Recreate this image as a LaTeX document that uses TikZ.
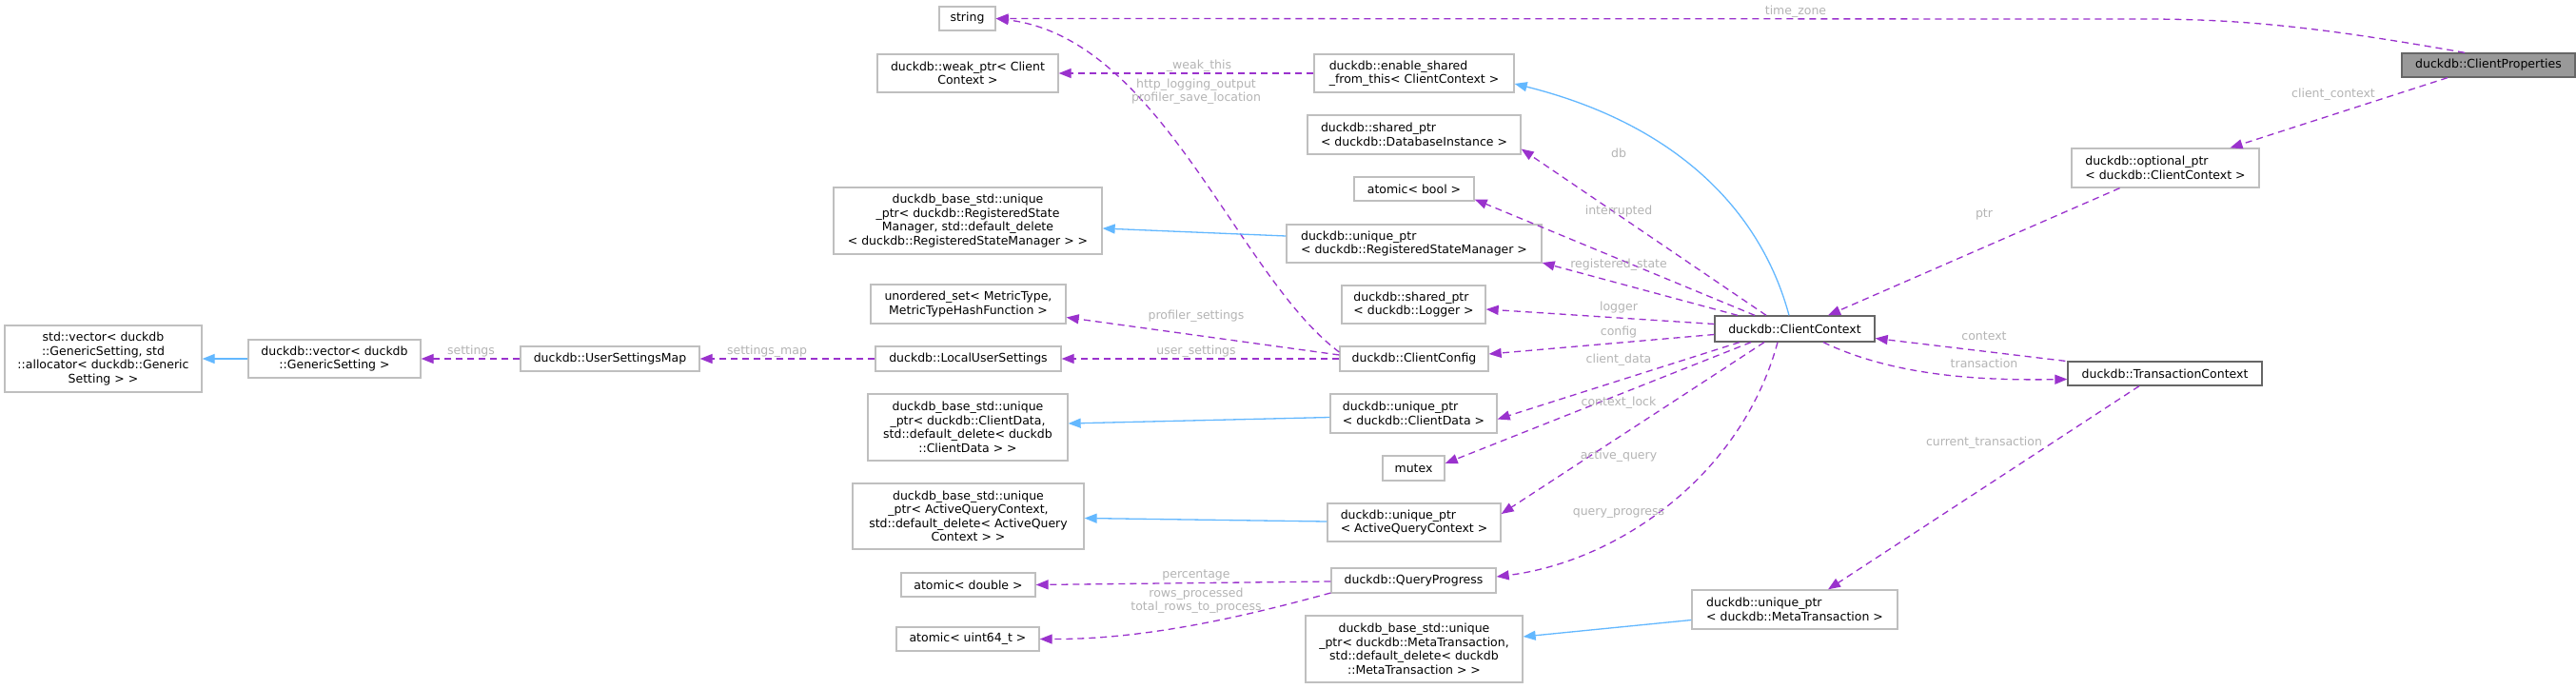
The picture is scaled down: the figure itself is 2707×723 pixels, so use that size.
\documentclass[tikz,border=0pt]{standalone}
\usepackage{fontspec}
\setmainfont{DejaVu Sans}
\usetikzlibrary{arrows.meta}
\definecolor{mem}{HTML}{9A32CD}
\definecolor{inh}{HTML}{63B8FF}
\definecolor{lblc}{HTML}{B4B4B4}
\definecolor{bord}{HTML}{BFBFBF}
\definecolor{dbord}{HTML}{666666}
\definecolor{cfill}{HTML}{999999}
\begin{document}
\begin{tikzpicture}[x=1pt,y=-1pt,
  box/.style={draw=bord,line width=1.3pt,fill=white,inner sep=0pt,align=center,font=\fontsize{12.5}{14.5}\selectfont},
  lbox/.style={box,align=left},
  mem/.style={draw=mem,line width=1.3pt,dash pattern=on 7pt off 5pt,-{Triangle[length=13pt,width=10pt]}},
  inh/.style={draw=inh,line width=1.3pt,-{Triangle[length=13pt,width=10pt]}},
  lbl/.style={text=lblc,font=\fontsize{12.5}{14.5}\selectfont,inner sep=0pt,align=center}]
\useasboundingbox (0,0) rectangle (2707,723);
\fill[white] (0,0) rectangle (2707,723);
% nodes
\node[box,minimum width=59,minimum height=25] (string) at (1016.5,19.5) {string};
\node[box,minimum width=190,minimum height=40] (weak) at (1017,77) {duckdb::weak\_ptr< Client\\Context >};
\node[lbox,minimum width=210,minimum height=40] (enable) at (1486,77) {duckdb::enable\_shared\\\_from\_this< ClientContext >};
\node[lbox,minimum width=224,minimum height=41] (spdb) at (1486,141.5) {duckdb::shared\_ptr\\< duckdb::DatabaseInstance >};
\node[box,minimum width=126,minimum height=25] (abool) at (1486,198.5) {atomic< bool >};
\node[box,minimum width=282,minimum height=70] (brsm) at (1017,232) {duckdb\_base\_std::unique\\\_ptr< duckdb::RegisteredState\\Manager, std::default\_delete\\< duckdb::RegisteredStateManager > >};
\node[lbox,minimum width=268,minimum height=40] (ursm) at (1486,256) {duckdb::unique\_ptr\\< duckdb::RegisteredStateManager >};
\node[box,minimum width=205,minimum height=41] (uset) at (1017.5,319.5) {unordered\_set< MetricType,\\MetricTypeHashFunction >};
\node[lbox,minimum width=151,minimum height=40] (splog) at (1485.5,320) {duckdb::shared\_ptr\\< duckdb::Logger >};
\node[box,draw=dbord,minimum width=168,minimum height=27] (cc) at (1886,345.5) {duckdb::ClientContext};
\node[box,minimum width=207,minimum height=70] (stdvec) at (108.5,377) {std::vector< duckdb\\::GenericSetting, std\\::allocator< duckdb::Generic\\Setting > >};
\node[box,minimum width=181,minimum height=40] (dvec) at (351.5,377) {duckdb::vector< duckdb\\::GenericSetting >};
\node[box,minimum width=188,minimum height=26] (usm) at (641,377) {duckdb::UserSettingsMap};
\node[box,minimum width=195,minimum height=26] (lus) at (1017.5,377) {duckdb::LocalUserSettings};
\node[box,minimum width=156,minimum height=26] (ccfg) at (1486,377) {duckdb::ClientConfig};
\node[box,minimum width=210,minimum height=70] (bcd) at (1017,449) {duckdb\_base\_std::unique\\\_ptr< duckdb::ClientData,\\std::default\_delete< duckdb\\::ClientData > >};
\node[lbox,minimum width=175,minimum height=41] (ucd) at (1485.5,434.5) {duckdb::unique\_ptr\\< duckdb::ClientData >};
\node[box,minimum width=65,minimum height=26] (mutex) at (1485.5,492) {mutex};
\node[box,minimum width=243,minimum height=69] (baq) at (1017.5,542.5) {duckdb\_base\_std::unique\\\_ptr< ActiveQueryContext,\\std::default\_delete< ActiveQuery\\Context > >};
\node[lbox,minimum width=182,minimum height=40] (uaq) at (1486,549) {duckdb::unique\_ptr\\< ActiveQueryContext >};
\node[box,minimum width=141,minimum height=25] (adbl) at (1017.5,614.5) {atomic< double >};
\node[box,minimum width=173,minimum height=26] (qp) at (1485.5,610) {duckdb::QueryProgress};
\node[box,minimum width=150,minimum height=25] (au64) at (1017,671.5) {atomic< uint64\_t >};
\node[box,minimum width=228,minimum height=70] (bmt) at (1486,682) {duckdb\_base\_std::unique\\\_ptr< duckdb::MetaTransaction,\\std::default\_delete< duckdb\\::MetaTransaction > >};
\node[lbox,minimum width=216,minimum height=41] (umt) at (1886,640.5) {duckdb::unique\_ptr\\< duckdb::MetaTransaction >};
\node[box,draw=dbord,fill=cfill,minimum width=182,minimum height=25] (cprop) at (2615,68.5) {duckdb::ClientProperties};
\node[lbox,minimum width=197,minimum height=41] (optr) at (2275.5,176.5) {duckdb::optional\_ptr\\< duckdb::ClientContext >};
\node[box,draw=dbord,minimum width=204,minimum height=25] (tctx) at (2275,392.5) {duckdb::TransactionContext};
% edges
\draw[mem] ([xshift=-25pt]cprop.north) .. controls (2420,25) and (2340,20) .. (2250,20) -- (string.east);
\node[lbl] (l1) at (1887,12) {time\_zone};
\draw[mem] ([xshift=-43pt]cprop.south) -- ([xshift=68pt]optr.north);
\node[lbl] (l2) at (2452,99) {client\_context};
\draw[mem] ([xshift=-48pt]optr.south) -- ([xshift=35pt]cc.north);
\node[lbl] (l3) at (2085,225) {ptr};
\draw[mem] ([xshift=-2pt]tctx.north west) -- ([yshift=-10pt]cc.east);
\node[lbl] (l4) at (2085,353) {context};
\draw[mem] ([xshift=30pt]cc.south) .. controls (1990,395) and (2080,400) .. ([yshift=-6pt]tctx.west);
\node[lbl] (l5) at (2085,382) {transaction};
\draw[mem] ([xshift=-27pt]tctx.south) -- ([xshift=35pt]umt.north);
\node[lbl] (l6) at (2085,465) {current\_transaction};
\draw[inh] ([xshift=-6pt]cc.north) .. controls (1850,220) and (1760,130) .. ([yshift=-11pt]enable.east);
% ClientContext members
\draw[mem] ([xshift=-30pt]cc.north) -- ([yshift=-15pt]spdb.east);
\node[lbl] (l7) at (1701,161) {db};
\draw[mem] ([xshift=-42pt]cc.north) -- ([yshift=-11pt]abool.east);
\node[lbl] (l8) at (1701,222) {interrupted};
\draw[mem] ([xshift=-60pt]cc.north) -- ([yshift=-20pt]ursm.east);
\node[lbl] (l9) at (1701,278) {registered\_state};
\draw[mem] ([yshift=5pt]cc.west) -- ([yshift=-5pt]splog.east);
\node[lbl] (l10) at (1701,323) {logger};
\draw[mem] ([yshift=-6pt]cc.west) -- ([yshift=5pt]ccfg.east);
\node[lbl] (l11) at (1701,349) {config};
\draw[mem] ([xshift=-58pt]cc.south) -- ([yshift=-6pt]ucd.east);
\node[lbl] (l12) at (1701,378) {client\_data};
\draw[mem] ([xshift=-46pt]cc.south) -- ([yshift=5pt]mutex.east);
\node[lbl] (l13) at (1701,423) {context\_lock};
\draw[mem] ([xshift=-32pt]cc.south) -- ([yshift=9pt]uaq.east);
\node[lbl] (l14) at (1701,479) {active\_query};
\draw[mem] ([xshift=-18pt]cc.south) .. controls (1830,500) and (1700,590) .. ([yshift=4pt]qp.east);
\node[lbl] (l15) at (1701,539) {query\_progress};
% left side
\draw[mem] (enable.west) -- (weak.east);
\node[lbl] (l16) at (1260,69) {\_weak\_this};
\draw[mem] ([yshift=7pt]ccfg.west) .. controls (1300,290) and (1220,40) .. (string.east);
\node[lbl] (l17) at (1257,96) {http\_logging\_output\\profiler\_save\_location};
\draw[mem] ([yshift=4pt]ccfg.west) -- ([yshift=-14pt]uset.east);
\node[lbl] (l18) at (1257,332) {profiler\_settings};
\draw[mem] (ccfg.west) -- (lus.east);
\node[lbl] (l19) at (1257,369) {user\_settings};
\draw[mem] (lus.west) -- (usm.east);
\node[lbl] (l20) at (806,369) {settings\_map};
\draw[mem] (usm.west) -- (dvec.east);
\node[lbl] (l21) at (495,369) {settings};
\draw[inh] (dvec.west) -- (stdvec.east);
\draw[inh] ([yshift=8pt]ursm.west) -- ([yshift=-8pt]brsm.east);
\draw[inh] ([yshift=-4pt]ucd.west) -- ([yshift=4pt]bcd.east);
\draw[inh] ([yshift=1pt]uaq.west) -- ([yshift=-2pt]baq.east);
\draw[mem] ([yshift=-1pt]qp.west) -- (adbl.east);
\node[lbl] (l22) at (1257,604) {percentage};
\draw[mem] ([yshift=-13pt]qp.west) .. controls (1300,650) and (1200,672) .. (au64.east);
\node[lbl] (l23) at (1257,631) {rows\_processed\\total\_rows\_to\_process};
\draw[inh] ([yshift=-11pt]umt.west) -- ([yshift=13pt]bmt.east);
\end{tikzpicture}
\end{document}
